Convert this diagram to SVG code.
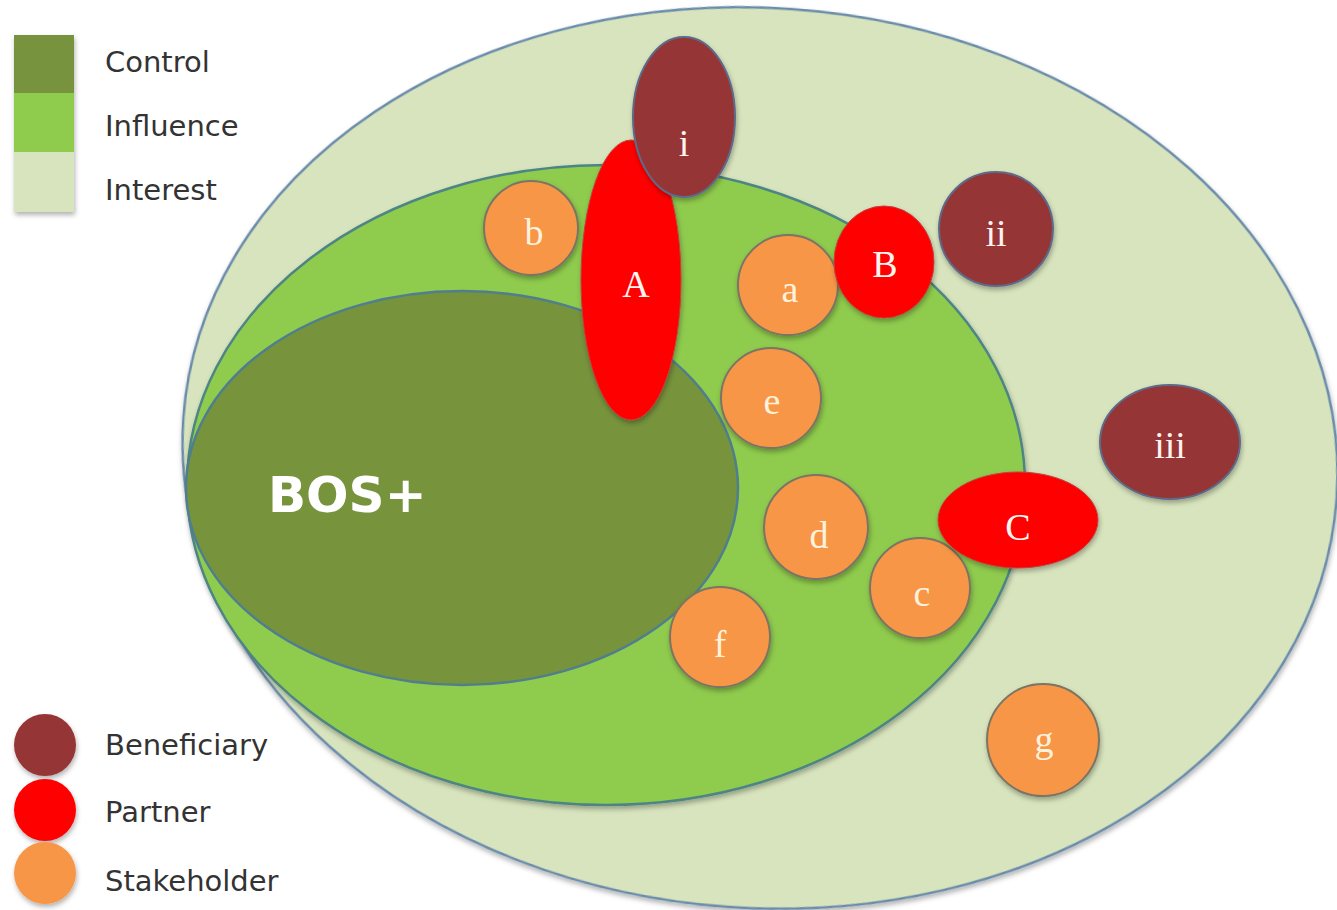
<svg xmlns="http://www.w3.org/2000/svg" width="1337" height="910" viewBox="0 0 1337 910">
<defs>
<filter id="sh" x="-20%" y="-20%" width="140%" height="150%">
<feDropShadow dx="1" dy="3" stdDeviation="2.5" flood-color="#000" flood-opacity="0.3"/>
</filter>
<style>
.zone{stroke-width:2.5}
.ben{fill:#963634;stroke:#5d6a8a;stroke-width:2}
.par{fill:#FF0000;stroke:#c04040;stroke-width:1}
.stk{fill:#F79646;stroke:#7b7464;stroke-width:2}
.lbl{font-family:"Liberation Serif","DejaVu Serif",serif;font-size:38px;text-anchor:middle}
.lo{fill:#FFF2DC}
.lr{fill:#FFF4F0}
.leg{font-family:"DejaVu Sans","Noto Sans",sans-serif;font-size:29px;fill:#333333}
</style>
</defs>
<rect width="1337" height="910" fill="#ffffff"/>

<g id="legend">
<g filter="url(#sh)">
<rect x="14" y="35" width="60" height="59" fill="#77933C"/>
<rect x="14" y="93" width="60" height="60" fill="#8FCB4E"/>
<rect x="14" y="152" width="60" height="60" fill="#D7E4BD"/>
</g>
<text class="leg" x="105" y="72">Control</text>
<text class="leg" x="105" y="136">Influence</text>
<text class="leg" x="105" y="200">Interest</text>
<circle cx="45" cy="745" r="31" fill="#963634" filter="url(#sh)"/>
<circle cx="45" cy="810" r="31" fill="#FF0000" filter="url(#sh)"/>
<circle cx="45" cy="873" r="31" fill="#F79646" filter="url(#sh)"/>
<text class="leg" x="105" y="755">Beneficiary</text>
<text class="leg" x="105" y="822">Partner</text>
<text class="leg" x="105" y="891">Stakeholder</text>
</g>

<g id="interest">
<ellipse class="zone" cx="760" cy="458" rx="578" ry="450" transform="rotate(4 760 458)" fill="#D7E4BD" stroke="#6a8caa" filter="url(#sh)"/>
</g>
<g id="influence">
<ellipse class="zone" cx="606" cy="485" rx="419" ry="320" fill="#8FCB4E" stroke="#4d8585" filter="url(#sh)"/>
</g>
<g id="control">
<ellipse class="zone" cx="462" cy="488" rx="276" ry="197" fill="#77933C" stroke="#4f7f8f"/>
<text x="268" y="512" font-family="'DejaVu Sans','Noto Sans',sans-serif" font-weight="bold" font-size="50" fill="#ffffff">BOS+</text>
</g>

<g id="node-b"><circle class="stk" cx="531" cy="228" r="47" filter="url(#sh)"/><text class="lbl lo" x="534" y="245">b</text></g>
<g id="node-A"><ellipse class="par" cx="631" cy="280" rx="50" ry="140" filter="url(#sh)"/><text class="lbl lr" x="636" y="297">A</text></g>
<g id="node-i"><ellipse class="ben" cx="684" cy="117" rx="51" ry="80" filter="url(#sh)"/><text class="lbl lr" x="684" y="156">i</text></g>
<g id="node-a"><circle class="stk" cx="788" cy="285" r="50" filter="url(#sh)"/><text class="lbl lo" x="790" y="302">a</text></g>
<g id="node-B"><ellipse class="par" cx="884" cy="262" rx="50" ry="56" filter="url(#sh)"/><text class="lbl lr" x="885" y="277">B</text></g>
<g id="node-ii"><circle class="ben" cx="996" cy="229" r="57" filter="url(#sh)"/><text class="lbl lr" x="996" y="246">ii</text></g>
<g id="node-e"><circle class="stk" cx="771" cy="398" r="50" filter="url(#sh)"/><text class="lbl lo" x="772" y="414">e</text></g>
<g id="node-iii"><ellipse class="ben" cx="1170" cy="442" rx="70" ry="57" filter="url(#sh)"/><text class="lbl lr" x="1170" y="458">iii</text></g>
<g id="node-d"><circle class="stk" cx="816" cy="527" r="52" filter="url(#sh)"/><text class="lbl lo" x="819" y="548">d</text></g>
<g id="node-c"><circle class="stk" cx="920" cy="588" r="50" filter="url(#sh)"/><text class="lbl lo" x="922" y="606">c</text></g>
<g id="node-C"><ellipse class="par" cx="1018" cy="520" rx="80" ry="48" filter="url(#sh)"/><text class="lbl lr" x="1018" y="540">C</text></g>
<g id="node-f"><ellipse class="stk" cx="720" cy="637" rx="50" ry="50" filter="url(#sh)"/><text class="lbl lo" x="720" y="657">f</text></g>
<g id="node-g"><circle class="stk" cx="1043" cy="740" r="56" filter="url(#sh)"/><text class="lbl lo" x="1044" y="752">g</text></g>

<g id="connectors"></g>
</svg>
